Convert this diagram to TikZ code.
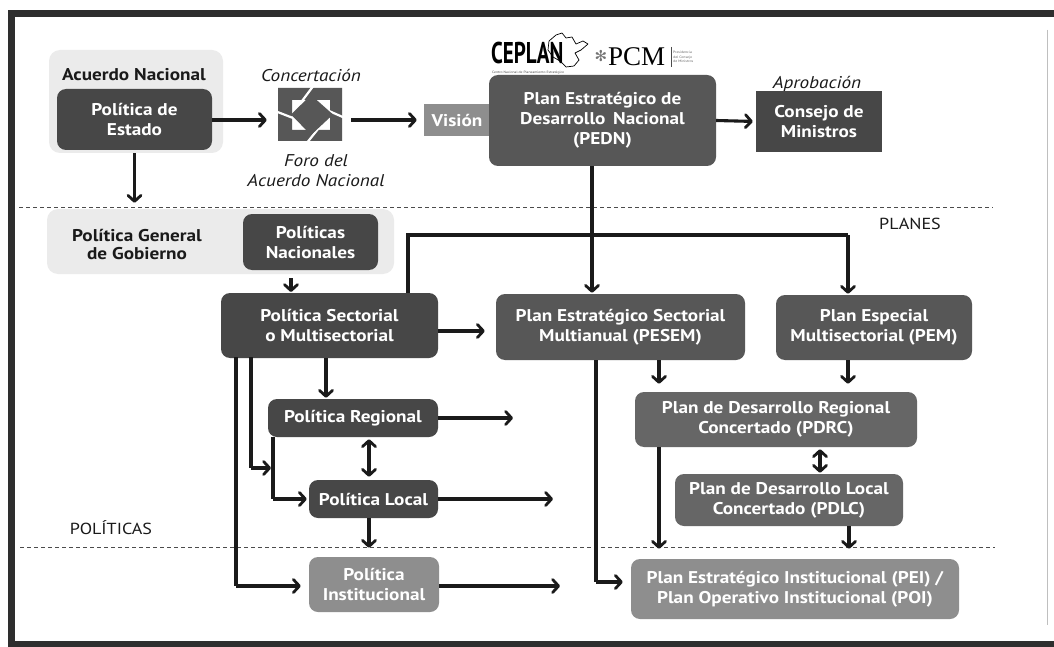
\documentclass[tikz,border=0pt]{standalone}
\usepackage{fontspec}
\setmainfont{PT Sans}[FakeStretch=1.13]
\newfontfamily\dejavu{DejaVu Sans}
\newfontfamily\pcmfont{Liberation Serif}
\usetikzlibrary{arrows.meta}
\definecolor{dk}{HTML}{474747}
\definecolor{md}{HTML}{575757}
\definecolor{mdl}{HTML}{666666}
\definecolor{lt}{HTML}{8E8E8E}
\definecolor{bgl}{HTML}{EBEBEB}
\definecolor{ink}{HTML}{1A1A1A}
\definecolor{frame}{HTML}{2E2E2E}
\tikzset{
  boxbase/.style={inner sep=0pt, align=center, text=white,
    font=\bfseries\fontsize{17}{20}\selectfont},
  rbox/.style={boxbase, rounded corners=9pt, fill=#1},
  sbox/.style={boxbase, fill=#1},
  bgbox/.style={inner sep=0pt, rounded corners=11pt, fill=bgl},
  lbl/.style={inner sep=0pt, text=ink, font=\itshape\fontsize{17}{20}\selectfont, align=center},
  blbl/.style={inner sep=0pt, text=ink, font=\bfseries\fontsize{17}{19}\selectfont, align=center},
  zone/.style={inner sep=0pt, text=ink, font=\fontsize{16}{16}\selectfont},
  tipb/.tip={Straight Barb[length=6pt,width=13pt,line width=2.8pt,round]},
  arr/.style={line width=3.1pt, ink, -tipb},
  darr/.style={line width=3.1pt, ink, tipb-tipb},
  ln/.style={line width=3.1pt, ink},
  sep/.style={line width=1pt, draw=black!70, dash pattern=on 4pt off 3pt}
}
\begin{document}
\begin{tikzpicture}[x=1pt,y=-1pt]
\useasboundingbox (0,0) rectangle (1054,647);
\fill[white] (0,0) rectangle (1054,647);
% frame
\fill[frame] (8,10) rectangle (1054,17);
\fill[frame] (8,10) rectangle (15,647);
\fill[frame] (8,641) rectangle (1054,647);
\draw[black!25, line width=1pt] (1047,30) -- (1047,625);

% separators
\draw[sep] (19,207) -- (993,207);
\draw[sep] (20,547) -- (995,547);
\node[zone] (planes) at (910,224) {PLANES};
\node[zone] (politicas) at (111,528) {POLÍTICAS};

% top row
\node[bgbox, minimum width=174pt, minimum height=103pt] (acbg) at (136,101.5) {};
\node[blbl] (actext) at (134,75) {Acuerdo Nacional};
\node[rbox=dk, minimum width=155pt, minimum height=61pt] (estado) at (134.5,119.5) {Política de\\Estado};

\node[lbl] (concert) at (311,75) {Concertación};
\node[inner sep=0pt, minimum width=64pt, minimum height=53pt] (foro) at (310,114.5) {};
% Foro logo
\fill[md, even odd rule] (278,88) rectangle (342,141) (292,100) rectangle (330,130);
\draw[white, line width=2.2pt] (314,85) -- (302,101);
\draw[white, line width=2.2pt] (275,111) -- (293,118);
\draw[white, line width=2.2pt] (345,118) -- (329,111);
\draw[white, line width=2.2pt] (306,144) -- (318,129);
\fill[md] (291,114.5) -- (311,95) -- (333,114.5) -- (311,135) -- cycle;
\node[lbl] (forotext) at (316,171) {Foro del\\Acuerdo Nacional};

\node[sbox=lt, minimum width=81pt, minimum height=32pt] (vision) at (464.5,120) {};
\node[boxbase] (visiontext) at (457,120) {Visión};
\node[rbox=md, minimum width=227pt, minimum height=91pt] (pedn) at (602.5,120.5) {Plan Estratégico de\\Desarrollo\, Nacional\\(PEDN)};

% logos
\node[inner sep=0pt, anchor=base west, text depth=0pt, text=black, font=\bfseries\fontsize{30}{30}\selectfont] (ceplan) at (491,64) {\scalebox{0.62}[1]{CEPLAN}};
\draw[black, line width=0.7pt, line join=round] (549,41) -- (556,35) -- (562,33) -- (566,38) -- (572,37) -- (576,44) -- (583,41) -- (588,44) -- (581,50) -- (575,53) -- (579,60) -- (574,66) -- (566,67) -- (560,61) -- (553,57) -- (548,50) -- cycle;
\node[inner sep=0pt, anchor=west, text=black!70, font=\fontsize{3.3}{4}\selectfont] (cepsub) at (492,73) {Centro Nacional de Planeamiento Estratégico};
\node[inner sep=0pt, text=black!55, font=\dejavu\fontsize{15}{15}\selectfont] (snow) at (601,56) {✻};
\node[inner sep=0pt, anchor=base west, text=black, font=\pcmfont\fontsize{27}{27}\selectfont] (pcm) at (608,66) {PCM};
\draw[black!70, line width=0.8pt] (671,47) -- (671,67);
\node[inner sep=0pt, anchor=west, text=black!60, font=\fontsize{3.4}{4.3}\selectfont, align=left] (pcmsub) at (673,57) {Presidencia\\del Consejo\\de Ministros};

\node[lbl] (aprob) at (817,84) {Aprobación};
\node[sbox=dk, minimum width=126pt, minimum height=61pt] (consejo) at (819,121.5) {Consejo de\\Ministros};

% second row
\node[bgbox, minimum width=347pt, minimum height=65pt] (pgbg) at (220.5,241.5) {};
\node[blbl, font=\bfseries\fontsize{17}{18}\selectfont] (pgtext) at (137,244) {Política General\\de Gobierno};
\node[rbox=dk, minimum width=135pt, minimum height=56pt] (polnac) at (310.5,242) {Políticas\\Nacionales};

\node[rbox=dk, minimum width=217pt, minimum height=65pt] (sect) at (329.5,325.5) {Política Sectorial\\o Multisectorial};
\node[rbox=md, minimum width=249pt, minimum height=66pt] (pesem) at (620.5,327) {Plan Estratégico Sectorial\\Multianual (PESEM)};
\node[rbox=md, minimum width=196pt, minimum height=65pt] (pem) at (874,327.5) {Plan Especial\\Multisectorial (PEM)};

\node[rbox=dk, minimum width=170pt, minimum height=38pt] (reg) at (353,418) {Política Regional};
\node[rbox=dk, minimum width=129pt, minimum height=38pt] (loc) at (373.5,499) {Política Local};
\node[rbox=lt, minimum width=130pt, minimum height=55pt] (inst) at (374,584.5) {Política\\Institucional};

\node[rbox=mdl, minimum width=282pt, minimum height=55pt] (pdrc) at (776,419.5) {Plan de Desarrollo Regional\\Concertado (PDRC)};
\node[rbox=mdl, minimum width=228pt, minimum height=52pt] (pdlc) at (789,500) {Plan de Desarrollo Local\\Concertado (PDLC)};
\node[rbox=lt, minimum width=328pt, minimum height=60pt] (pei) at (795,589) {Plan Estratégico Institucional (PEI) /\\Plan Operativo Institucional (POI)};

% coordinates
\coordinate (jp) at (592,235);
\coordinate (jl) at (408,235);
\coordinate (jr) at (848,235);
\coordinate (regend) at (513,418);
\coordinate (locend) at (553,499);
\coordinate (instend) at (560,586);
\coordinate (regtap) at (271,468);

% connectors top
\draw[arr, shorten >=11pt] (estado.east |- 0,120) -- (foro.west |- 0,120);
\draw[arr, shorten <=9pt, shorten >=7pt] (foro.east |- 0,120) -- (vision.west);
\draw[arr, shorten >=3pt] (pedn.east) -- (consejo.west);
\draw[arr, shorten >=6pt] (estado.south |- acbg.south) -- (estado.south |- pgbg.north);
\draw[arr, shorten <=8pt, shorten >=1pt] (291,270) -- (291,293);
\draw[arr, shorten >=1pt] (pedn.south -| jp) -- (pesem.north -| jp);
\draw[ln, line join=miter] (sect.north -| jl) -- (jl) -- (jr);
\draw[arr, shorten >=1pt] (jr) -- (pem.north -| jr);

% policies
\draw[arr, shorten >=11pt] (sect.east |- 0,331) -- (pesem.west |- 0,331);
\draw[arr, shorten >=1pt] (sect.south -| 326,0) -- (reg.north -| 326,0);
\draw[ln] (251,357) -- (251,468);
\draw[arr] (251,468) -- (regtap);
\draw[ln] (236,357) -- (236,586);
\draw[arr, shorten >=8pt] (236,586) -- (inst.west |- 0,586);
\draw[ln] (273,437) -- (273,499);
\draw[arr, shorten >=2pt] (273,499) -- (loc.west);
\draw[darr, shorten <=2pt, shorten >=3pt] (reg.south -| 369,0) -- (loc.north -| 369,0);
\draw[arr] (reg.east) -- (regend);
\draw[arr] (loc.east) -- (locend);
\draw[arr, shorten >=9pt] (loc.south -| 369,0) -- (inst.north -| 369,0);
\draw[arr] (inst.east |- instend) -- (instend);

% plans
\draw[ln] (pesem.south -| 596,0) -- (596,582);
\draw[arr, shorten >=8pt] (596,582) -- (pei.west |- 0,582);
\draw[arr, shorten >=8pt] (pesem.south -| 659,0) -- (pdrc.north -| 659,0);
\draw[arr, shorten >=8pt] (pem.south -| 848,0) -- (pdrc.north -| 848,0);
\draw[arr, shorten >=10pt] (pdrc.south -| 659,0) -- (pei.north -| 659,0);
\draw[darr, shorten <=2pt, shorten >=1pt] (pdrc.south -| 820,0) -- (pdlc.north -| 820,0);
\draw[arr, shorten >=10pt] (pdlc.south -| 849,0) -- (pei.north -| 849,0);
\end{tikzpicture}
\end{document}
